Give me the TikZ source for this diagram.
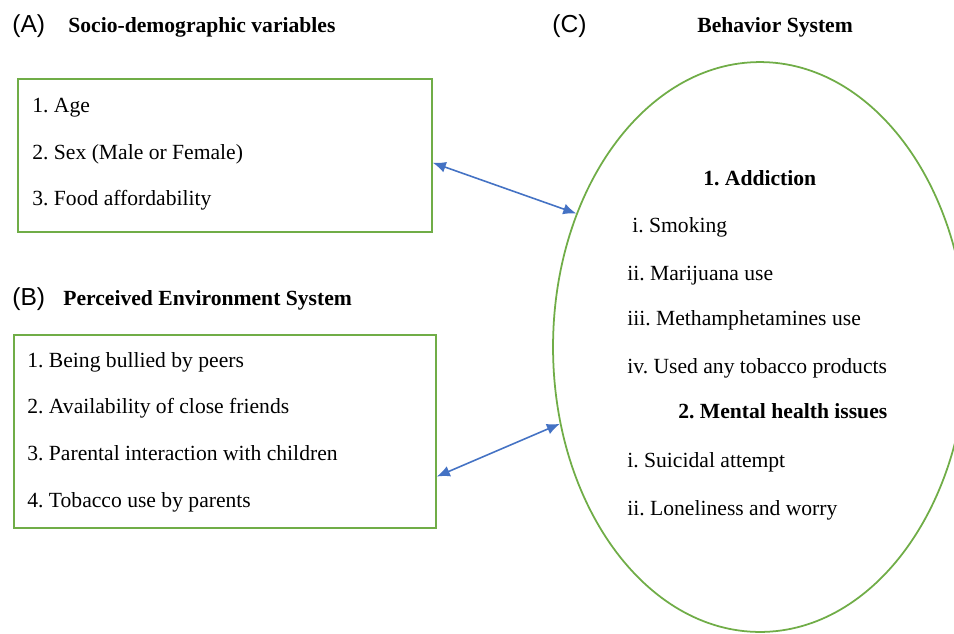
\documentclass[tikz,border=0pt]{standalone}
\usepackage{fontspec}
\setmainfont{Liberation Serif}
\newfontfamily\tagfont{Liberation Sans}
\frenchspacing
\usetikzlibrary{shapes, arrows.meta, positioning}
\definecolor{boxgreen}{RGB}{112,173,71}
\definecolor{linkblue}{RGB}{68,114,196}
\tikzstyle{sysbox} = [rectangle, draw=boxgreen, line width=1pt, inner sep=0pt]
\tikzstyle{sysell} = [ellipse, draw=boxgreen, line width=1pt, inner sep=0pt, minimum width=8.28cm, minimum height=11.4cm]
\tikzstyle{item} = [anchor=base west, inner sep=0pt, font=\fontsize{12.3}{14}\selectfont]
\tikzstyle{head} = [anchor=base west, inner sep=0pt, font=\fontsize{12.3}{14}\selectfont\bfseries]
\tikzstyle{tag} = [anchor=base west, inner sep=0pt, font=\tagfont\fontsize{14}{16}\selectfont]
\tikzstyle{link} = [{Latex[length=0.26cm,width=0.22cm]}-{Latex[length=0.26cm,width=0.22cm]}, draw=linkblue, line width=0.9pt]

\begin{document}
\begin{tikzpicture}[x=0.02cm, y=-0.02cm]
  \clip (0,0) rectangle (954,633);
  \fill[white] (0,0) rectangle (954,633);

  % (A) socio-demographic
  \node[tag] (tA) at (12,32) {(A)};
  \node[head] (hA) at (68,32) {Socio-demographic variables};
  \node[sysbox, minimum width=8.28cm, minimum height=3.06cm] (boxA) at (225,155.5) {};
  \node[item] (a1) at (32,112) {1. Age};
  \node[item] (a2) at (32,159) {2. Sex (Male or Female)};
  \node[item] (a3) at (32,205) {3. Food affordability};

  % (B) perceived environment
  \node[tag] (tB) at (12,305) {(B)};
  \node[head] (hB) at (63,305) {Perceived Environment System};
  \node[sysbox, minimum width=8.44cm, minimum height=3.86cm] (boxB) at (225,431.5) {};
  \node[item] (b1) at (27,367) {1. Being bullied by peers};
  \node[item] (b2) at (27,413) {2. Availability of close friends};
  \node[item] (b3) at (27,460) {3. Parental interaction with children};
  \node[item] (b4) at (27,507) {4. Tobacco use by parents};

  % (C) behavior
  \node[tag] (tC) at (552,32) {(C)};
  \node[head] (hC) at (697,32) {Behavior System};
  \node[sysell] (behav) at (760,347) {};
  \node[head] (c0) at (703,185) {1. Addiction};
  \node[item] (c1) at (632,232) {i. Smoking};
  \node[item] (c2) at (627,280) {ii. Marijuana use};
  \node[item] (c3) at (627,325) {iii. Methamphetamines use};
  \node[item] (c4) at (627,373) {iv. Used any tobacco products};
  \node[head] (d0) at (678,418) {2. Mental health issues};
  \node[item] (d1) at (627,467) {i. Suicidal attempt};
  \node[item] (d2) at (627,515) {ii. Loneliness and worry};

  \draw[link] (boxA.-2) -- (behav.144.4);
  \draw[link] (boxB.-12) -- (behav.201.8);
\end{tikzpicture}
\end{document}
